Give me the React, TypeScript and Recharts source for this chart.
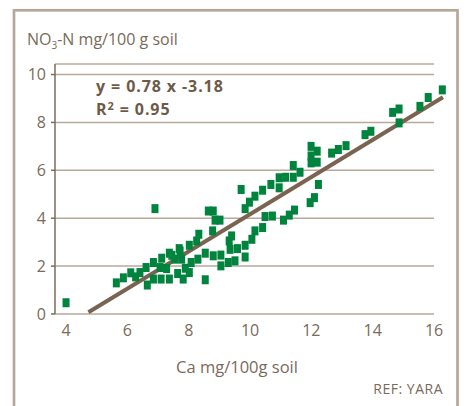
import React from "react";
import { ComposedChart, Scatter, XAxis, YAxis, CartesianGrid, ReferenceLine } from "recharts";

const caValues = [
  4.0, 5.64, 5.87, 6.11, 6.27, 6.41, 6.61, 6.65, 6.85, 6.85, 6.9, 7.07, 7.1, 7.12, 7.28, 7.37, 7.37,
  7.45, 7.55, 7.64, 7.69, 7.72, 7.77, 7.82, 7.89, 8.02, 8.02, 8.08, 8.26, 8.3, 8.33, 8.54, 8.54,
  8.64, 8.8, 8.78, 8.8, 8.86, 9.02, 9.05, 9.05, 9.29, 9.32, 9.35, 9.4, 9.51, 9.59, 9.71, 9.84, 9.84,
  9.84, 9.98, 10.06, 10.16, 10.16, 10.41, 10.41, 10.49, 10.68, 10.73, 10.95, 10.95, 11.09, 11.16,
  11.28, 11.41, 11.41, 11.45, 11.63, 11.96, 11.99, 11.99, 11.99, 12.1, 12.19, 12.19, 12.23, 12.66,
  12.88, 13.13, 13.75, 13.94, 14.65, 14.86, 14.86, 15.54, 15.81, 16.27,
];
const no3Values = [
  0.47, 1.3, 1.51, 1.72, 1.55, 1.73, 1.94, 1.21, 2.15, 1.46, 4.4, 1.94, 1.46, 2.33, 1.9, 2.54, 1.46,
  2.45, 2.29, 1.69, 2.73, 2.63, 2.29, 1.46, 1.91, 1.73, 2.87, 2.15, 3.05, 2.29, 3.33, 1.43, 2.54,
  4.3, 4.3, 3.47, 2.43, 3.92, 3.92, 2.46, 2.01, 2.15, 3.05, 2.7, 3.26, 2.22, 2.73, 5.2, 4.4, 2.87,
  2.38, 4.67, 3.12, 4.92, 3.47, 5.17, 3.61, 4.07, 5.41, 4.09, 5.69, 5.27, 3.92, 5.71,
  4.13, 6.2, 5.71, 4.34, 5.92, 4.65, 7.0, 6.6, 6.31, 4.86, 6.8, 6.34, 5.41, 6.72,
  6.87, 7.03, 7.49, 7.63, 8.42, 8.56, 7.98, 8.67, 9.04, 9.36,
];
const trendCa = [4.73, 16.29];
const trendNo3 = [0.07, 9.05];
const xTicks = [4, 6, 8, 10, 12, 14, 16];
const yTicks = [0, 2, 4, 6, 8, 10];

const points = caValues.map((x, i) => ({ x, y: no3Values[i] }));
const trend = trendCa.map((x, i) => ({ x, y: trendNo3[i] }));

const FONT = "'Open Sans', sans-serif";
const TXT = "#7a6a5b";
const AXIS = "#7d6b5b";
const GRID = "#b7aa9c";
const GREEN = "#00843d";

const Square = (props: any) => {
  const { cx, cy } = props;
  if (cx == null || cy == null) return null;
  return <rect x={cx - 3.5} y={cy - 4.5} width={7} height={9} fill={GREEN} />;
};

export default function App() {
  return (
    <div style={{ position: "absolute", left: 0, top: 0, width: 465, height: 406, overflow: "hidden", background: "#fff" }}>
      <svg width={465} height={406} style={{ position: "absolute", left: 0, top: 0 }}>
        <rect x={14} y={10.3} width={443.5} height={420} fill="none" stroke="#b5a899" strokeWidth={2.7} />
        <text x={27} y={45} fontFamily={FONT} fontSize={16} fill={TXT}>
          NO<tspan fontSize={10} dy={4}>3</tspan><tspan dy={-4}>-N mg/100 g soil</tspan>
        </text>
        <text x={237} y={373} textAnchor="middle" fontFamily={FONT} fontSize={16.5} fill={TXT}>Ca mg/100g soil</text>
        <text x={443} y={394} textAnchor="end" fontFamily={FONT} fontSize={14} letterSpacing={0.5} fill={TXT}>REF: YARA</text>
        <text x={96} y={92} fontFamily={FONT} fontSize={16} fontWeight="bold" letterSpacing={0.9} fill="#6e5a48">y = 0.78 x -3.18</text>
        <text x={96} y={115} fontFamily={FONT} fontSize={16} fontWeight="bold" letterSpacing={0.9} fill="#6e5a48">
          R<tspan fontSize={11} dy={-5}>2</tspan><tspan dy={5}> = 0.95</tspan>
        </text>
      </svg>
      <div style={{ position: "absolute", left: 0, top: 0 }}>
        <ComposedChart width={465} height={406} margin={{ top: 64, right: 18.7, bottom: 62, left: 15 }}>
          <CartesianGrid horizontal vertical={false} stroke={GRID} strokeWidth={1.5} x={55} width={379} />
          <XAxis
            dataKey="x"
            type="number"
            domain={[3.64, 16.4]}
            ticks={xTicks}
            axisLine={false}
            tickLine={false}
            tickSize={0}
            tickMargin={11}
            height={30}
            tick={{ fill: TXT, fontSize: 16, fontFamily: FONT }}
            interval={0}
          />
          <YAxis
            dataKey="y"
            type="number"
            domain={[0, 10.44]}
            ticks={yTicks}
            width={40}
            axisLine={{ stroke: AXIS, strokeWidth: 1.5 }}
            tickLine={{ stroke: AXIS, strokeWidth: 1.5 }}
            tickSize={4}
            tickMargin={5}
            tick={{ fill: TXT, fontSize: 16, fontFamily: FONT }}
            interval={0}
          />
          <ReferenceLine
            segment={[{ x: 3.56, y: 0 }, { x: 16.13, y: 0 }]}
            stroke={AXIS}
            strokeWidth={1.5}
          />
          <Scatter
            data={trend}
            line={{ stroke: "#7a6350", strokeWidth: 4 }}
            shape={() => null}
            isAnimationActive={false}
          />
          <Scatter data={points} shape={<Square />} isAnimationActive={false} />
        </ComposedChart>
      </div>
    </div>
  );
}
